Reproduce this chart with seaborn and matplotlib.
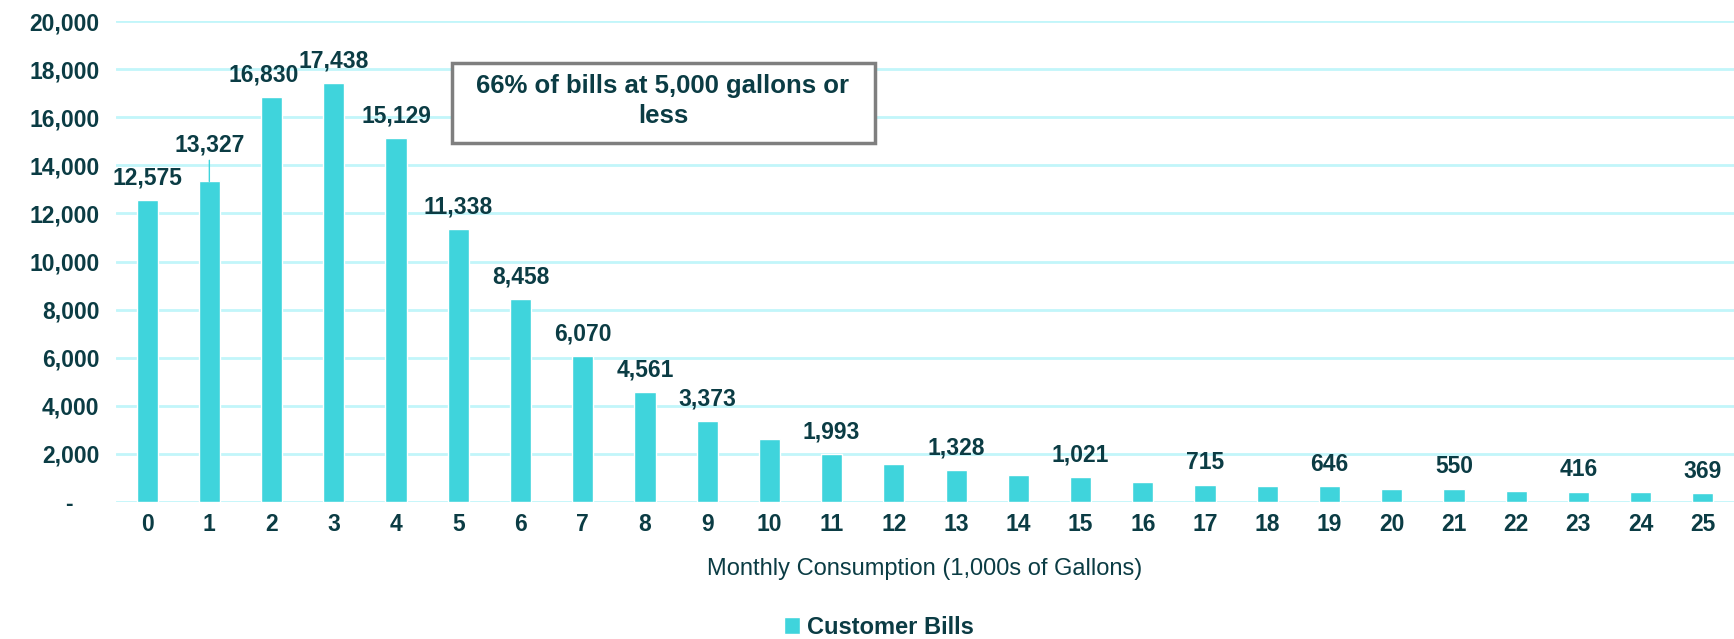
import pandas as pd
import matplotlib.pyplot as plt
import matplotlib.patches as mpatches
import seaborn as sns

# Monthly consumption buckets (1,000s of gallons) and number of customer bills
consumption = list(range(26))
bills = [12575, 13327, 16830, 17438, 15129, 11338, 8458, 6070, 4561, 3373,
         2625, 1993, 1585, 1328, 1115, 1021, 822, 715, 685, 646,
         530, 550, 460, 416, 405, 369]
# which bars carry a data label in the original chart
labeled = [0, 1, 2, 3, 4, 5, 6, 7, 8, 9, 11, 13, 15, 17, 19, 21, 23, 25]
y_ticks = [0, 2000, 4000, 6000, 8000, 10000, 12000, 14000, 16000, 18000, 20000]

BAR = "#3FD4DC"
GRID = "#C2F6FA"
TEXT = "#0B3C44"

sns.set_style("white")
plt.rcParams["font.family"] = ["Liberation Sans", "DejaVu Sans"]

df = pd.DataFrame({"Consumption": [str(c) for c in consumption], "Bills": bills})

fig = plt.figure(figsize=(17.34, 6.39), dpi=100)
ax = fig.add_axes([116 / 1734, 1 - 502 / 639, 1 - 116 / 1734, 481 / 639])

sns.barplot(data=df, x="Consumption", y="Bills", color=BAR, width=0.34,
            saturation=1, label="Customer Bills", ax=ax, zorder=3)
handles, labels = ax.get_legend_handles_labels()
if ax.get_legend() is not None:
    ax.get_legend().remove()

ax.set_ylim(0, 20000)
ax.set_xlim(-0.5, len(consumption) - 0.5)
ax.set_yticks(y_ticks)
ax.set_yticklabels(["-    " if t == 0 else f"{t:,}" for t in y_ticks])
ax.yaxis.grid(True, color=GRID, linewidth=2, zorder=0)
ax.set_axisbelow(True)
for s in ax.spines.values():
    s.set_visible(False)
ax.tick_params(axis="both", length=0, labelcolor=TEXT, labelsize=16.5)
ax.tick_params(axis="y", pad=12)
ax.tick_params(axis="x", pad=8)
for lbl in ax.get_xticklabels() + ax.get_yticklabels():
    lbl.set_fontweight("bold")

ax.set_xlabel("Monthly Consumption (1,000s of Gallons)", fontsize=17, color=TEXT, labelpad=16)
ax.set_ylabel("")

# data labels
for i in labeled:
    dx, dy = 0, 22
    kw = {}
    if i == 1:
        dy = 36
        kw["arrowprops"] = dict(arrowstyle="-", color=BAR, lw=1, shrinkA=0, shrinkB=0)
    if i == 2:
        dx = -8
    ax.annotate(f"{bills[i]:,}", xy=(i, bills[i]), xytext=(dx, dy),
                textcoords="offset pixels", ha="center", va="center",
                fontsize=16.5, fontweight="bold", color=TEXT, **kw)

# callout box
box = mpatches.Rectangle(((452 - 116) / 1618, (502 - 143) / 481), 423 / 1618, 80 / 481,
                         transform=ax.transAxes, facecolor="white", edgecolor="#7F7F7F",
                         linewidth=2.5, zorder=5)
ax.add_patch(box)
ax.text((663 - 116) / 1618, (502 - 101) / 481, "66% of bills at 5,000 gallons or\nless",
        transform=ax.transAxes, ha="center", va="center", fontsize=18.5,
        fontweight="bold", color=TEXT, linespacing=1.3, zorder=6)

fig.legend(handles, labels, loc="center", bbox_to_anchor=(879 / 1734, 1 - 627 / 639),
           frameon=False, handlelength=0.7, handleheight=0.7, handletextpad=0.3,
           prop={"weight": "bold", "size": 17}, labelcolor=TEXT)

fig.savefig("out.png", dpi=100)
